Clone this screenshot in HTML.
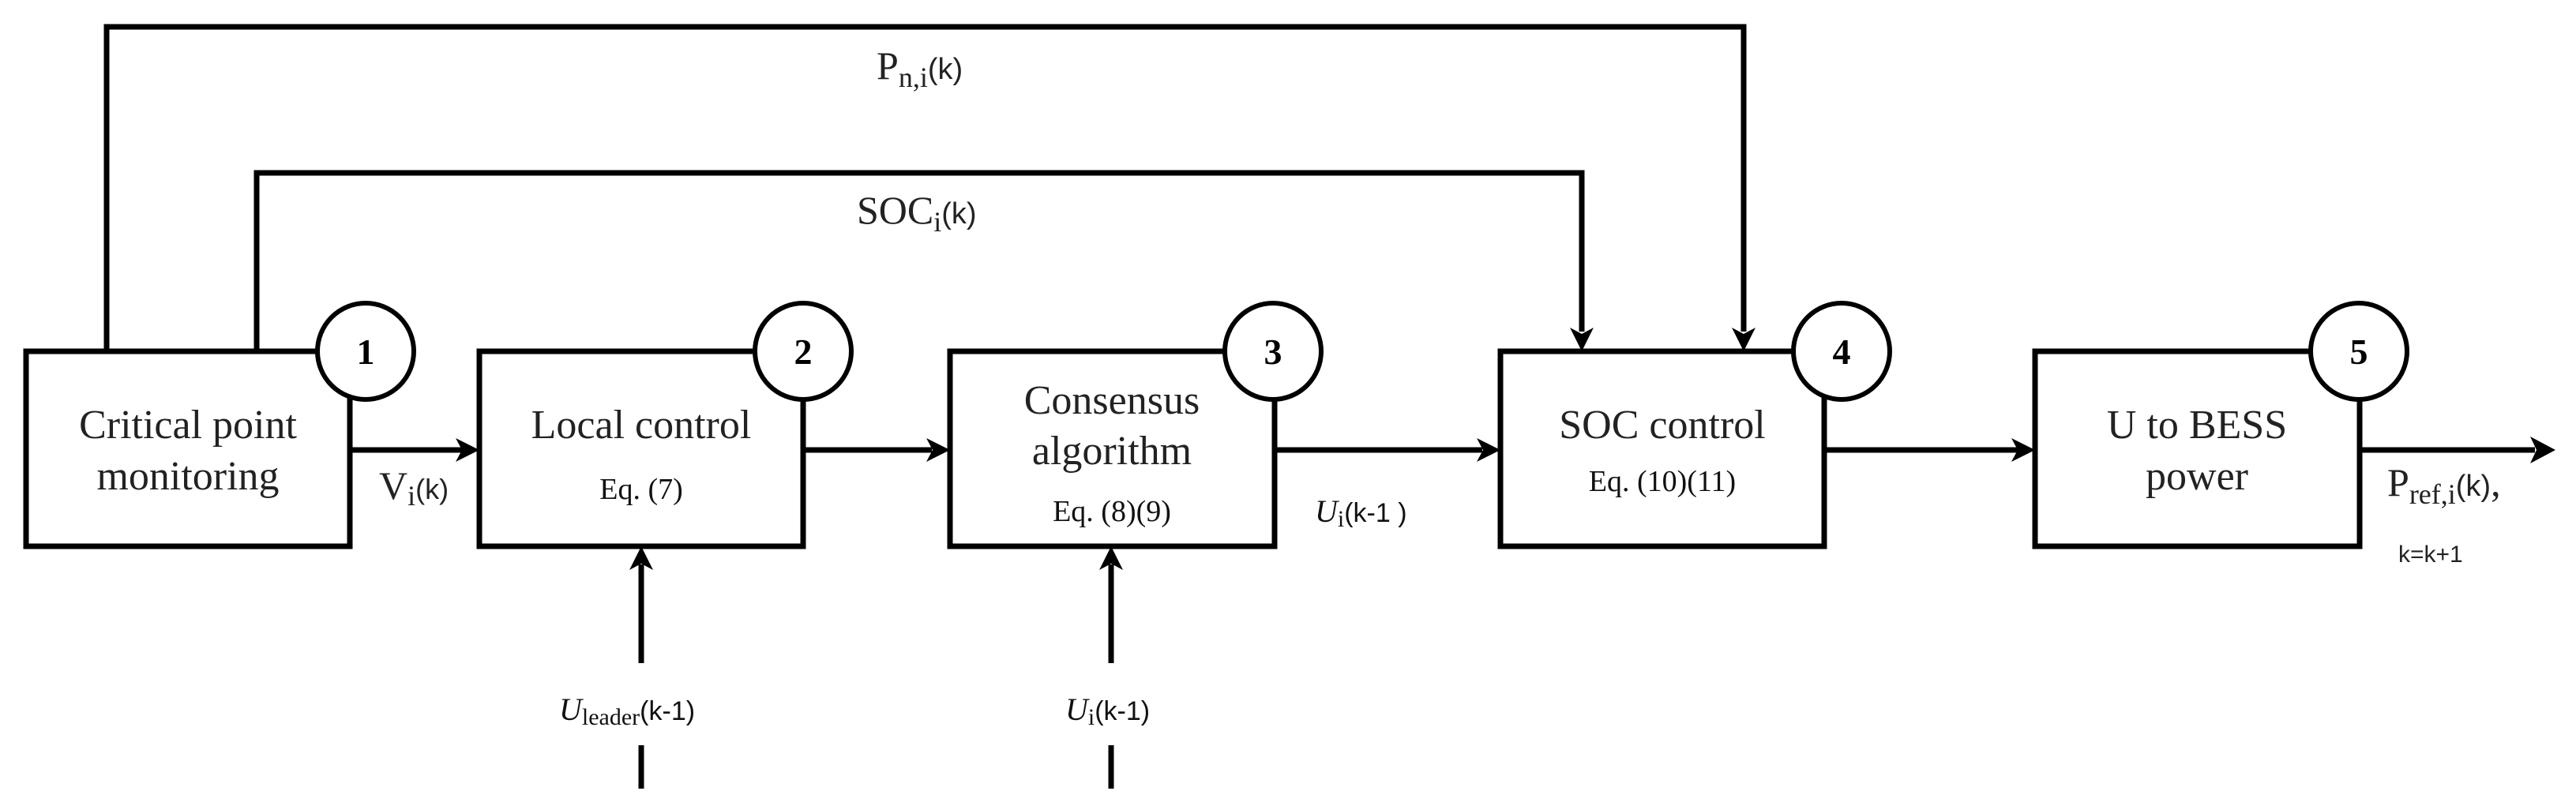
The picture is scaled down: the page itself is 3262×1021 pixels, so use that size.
<!DOCTYPE html>
<html><head><meta charset="utf-8"><style>html,body{margin:0;padding:0;background:#fff}svg{display:block}</style></head>
<body>
<svg width="3262" height="1021" viewBox="0 0 3262 1021" xmlns="http://www.w3.org/2000/svg" style="font-family:'Liberation Serif',serif">
<g fill="none" stroke="#000" stroke-width="7">
<polyline points="135,445 135,34 2208,34 2208,420"/>
<polyline points="325,445 325,219 2003,219 2003,420"/>
<rect x="33" y="445" width="410" height="247"/>
<rect x="607" y="445" width="410" height="247"/>
<rect x="1203" y="445" width="411" height="247"/>
<rect x="1900" y="445" width="410" height="247"/>
<rect x="2577" y="445" width="411" height="247"/>
<line x1="443" y1="570" x2="585" y2="570"/>
<line x1="1017" y1="570" x2="1180" y2="570"/>
<line x1="1614" y1="570" x2="1877" y2="570"/>
<line x1="2310" y1="570" x2="2555" y2="570"/>
<line x1="2988" y1="570" x2="3210" y2="570"/>
<line x1="812" y1="840" x2="812" y2="715"/>
<line x1="812" y1="944" x2="812" y2="999"/>
<line x1="1407" y1="840" x2="1407" y2="715"/>
<line x1="1407" y1="944" x2="1407" y2="999"/>
</g>
<g fill="#000">
<polygon points="607,570 577,555 585,570 577,585"/>
<polygon points="1203,570 1173,555 1181,570 1173,585"/>
<polygon points="1900,570 1870,555 1878,570 1870,585"/>
<polygon points="2577,570 2547,555 2555,570 2547,585"/>
<polygon points="3236,570 3204,553 3212,570 3204,587"/>
<polygon points="2003,445 1988,415 2003,423 2018,415"/>
<polygon points="2208,445 2193,415 2208,423 2223,415"/>
<polygon points="812,692 797,722 812,714 827,722"/>
<polygon points="1407,692 1392,722 1407,714 1422,722"/>
</g>
<g fill="#fff" stroke="#000" stroke-width="6">
<circle cx="463" cy="445" r="61"/>
<circle cx="1017" cy="445" r="61"/>
<circle cx="1612" cy="445" r="61"/>
<circle cx="2332" cy="445" r="61"/>
<circle cx="2987" cy="445" r="61"/>
</g>
<g font-weight="bold" font-size="46" text-anchor="middle" style="font-family:'Liberation Serif',serif">
<text x="463" y="461">1</text>
<text x="1017" y="461">2</text>
<text x="1612" y="461">3</text>
<text x="2332" y="461">4</text>
<text x="2987" y="461">5</text>
</g>
<g font-size="52" text-anchor="middle" fill="#222" style="font-family:'Liberation Serif',serif">
<text x="238" y="555">Critical point</text>
<text x="238" y="620">monitoring</text>
<text x="812" y="555">Local control</text>
<text x="1408" y="524">Consensus</text>
<text x="1408" y="588">algorithm</text>
<text x="2105" y="555">SOC control</text>
<text x="2782" y="555">U to BESS</text>
<text x="2782" y="620">power</text>
</g>
<g font-size="38" text-anchor="middle" fill="#111" style="font-family:'Liberation Serif',serif">
<text x="812" y="632">Eq. (7)</text>
<text x="1408" y="660">Eq. (8)(9)</text>
<text x="2105" y="622">Eq. (10)(11)</text>
</g>
<g font-size="50" fill="#222" style="font-family:'Liberation Serif',serif">
<text x="1110" y="100">P<tspan font-size="36" dy="10">n,i</tspan><tspan dy="-10" style="font-family:'Liberation Sans',sans-serif" font-size="38">(k)</tspan></text>
<text x="1085" y="283">SOC<tspan font-size="36" dy="10">i</tspan><tspan dy="-10" style="font-family:'Liberation Sans',sans-serif" font-size="38">(k)</tspan></text>
<text x="480" y="632">V<tspan font-size="36" dy="8">i</tspan><tspan dy="-8" style="font-family:'Liberation Sans',sans-serif" font-size="36">(k)</tspan></text>
<text x="3023" y="628">P<tspan font-size="36" dy="10">ref,i</tspan><tspan dy="-10" style="font-family:'Liberation Sans',sans-serif" font-size="38">(k)</tspan>,</text>
</g>
<text x="3037" y="712" style="font-family:'Liberation Sans',sans-serif" font-size="30" fill="#222">k=k+1</text>
<g font-size="40" fill="#111" style="font-family:'Liberation Serif',serif">
<text x="708" y="912"><tspan font-style="italic">U</tspan><tspan font-size="30" dy="6">leader</tspan><tspan dy="-6" style="font-family:'Liberation Sans',sans-serif" font-size="34">(k-1)</tspan></text>
<text x="1349" y="912"><tspan font-style="italic">U</tspan><tspan font-size="30" dy="6">i</tspan><tspan dy="-6" style="font-family:'Liberation Sans',sans-serif" font-size="34">(k-1)</tspan></text>
<text x="1665" y="661"><tspan font-style="italic">U</tspan><tspan font-size="30" dy="6">i</tspan><tspan dy="-6" style="font-family:'Liberation Sans',sans-serif" font-size="34">(k-1 )</tspan></text>
</g>
</svg>
</body></html>
